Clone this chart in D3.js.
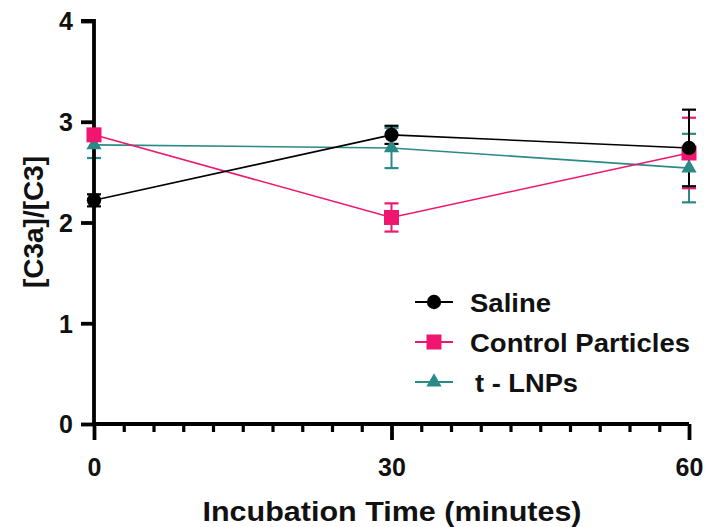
<!DOCTYPE html>
<html>
<head>
<meta charset="utf-8">
<script src="https://cdn.jsdelivr.net/npm/d3@7"></script>
<style>
  html, body { margin: 0; padding: 0; background: #fff; }
  svg { display: block; }
  text { font-family: "Liberation Sans", Arial, sans-serif; font-weight: bold; fill: #111; }
</style>
</head>
<body>
<svg id="chart" width="708" height="527"></svg>
<script>
// ---- data ----
const times = [0, 30, 60];
const seriesNames = ["Saline", "Control Particles", "t - LNPs"];
const salineMean = [2.22, 2.87, 2.74];
const salineErr  = [0.06, 0.09, 0.38];
const controlMean = [2.87, 2.05, 2.69];
const controlErr  = [0.05, 0.14, 0.35];
const lnpMean = [2.77, 2.74, 2.54];
const lnpErr  = [0.13, 0.20, 0.34];
const yTicks = [0, 1, 2, 3, 4];
const xMajorTicks = [0, 30, 60];
const xMinorTicks = d3.range(0, 61, 3);
const xLabel = "Incubation Time (minutes)";
const yLabel = "[C3a]/[C3]";

const colors = ["#000000", "#F0156E", "#2A8A86"];
const symbols = [d3.symbolCircle, d3.symbolSquare, d3.symbolTriangle];
const symbolSizes = [160, 225, 100];

const series = [
  { name: seriesNames[0], mean: salineMean, err: salineErr },
  { name: seriesNames[1], mean: controlMean, err: controlErr },
  { name: seriesNames[2], mean: lnpMean, err: lnpErr }
];

const svg = d3.select("#chart");
const x = d3.scaleLinear().domain([0, 60]).range([94, 689]);
const y = d3.scaleLinear().domain([0, 4]).range([424, 21]);

const drawOrder = [2, 1, 0];
const g = svg.append("g");
drawOrder.forEach(i => {
  const s = series[i];
  const pts = times.map((t, j) => ({ t, m: s.mean[j], e: s.err[j] }));
  g.append("path")
    .datum(pts)
    .attr("fill", "none")
    .attr("stroke", colors[i])
    .attr("stroke-width", 1.6)
    .attr("d", d3.line().x(d => x(d.t)).y(d => y(d.m)));
  pts.forEach(d => {
    const cx = x(d.t);
    g.append("line").attr("x1", cx).attr("x2", cx)
      .attr("y1", y(d.m - d.e)).attr("y2", y(d.m + d.e))
      .attr("stroke", colors[i]).attr("stroke-width", 2);
    [d.m - d.e, d.m + d.e].forEach(v => {
      g.append("line").attr("x1", cx - 7).attr("x2", cx + 7)
        .attr("y1", y(v)).attr("y2", y(v))
        .attr("stroke", colors[i]).attr("stroke-width", 2.2);
    });
  });
});

// axes
const yAxis = d3.axisLeft(y).tickValues(yTicks).tickSize(13).tickPadding(8).tickFormat(d3.format("d"));
const ya = svg.append("g").attr("transform", `translate(${x(0)},0)`).call(yAxis);
ya.select(".domain").attr("stroke", "#000").attr("stroke-width", 3.8).attr("d", `M-13,${y(4)}H0V${y(0)}`);
ya.selectAll(".tick line").attr("stroke", "#000").attr("stroke-width", 3.8);
ya.selectAll(".tick text").style("font-size", "25px").style("font-family", "Liberation Sans, Arial, sans-serif").style("font-weight", "bold").attr("fill", "#111").attr("dy", "0.35em");

const xAxisMinor = d3.axisBottom(x).tickValues(xMinorTicks.filter(v => !xMajorTicks.includes(v))).tickSize(8).tickFormat("");
const xm = svg.append("g").attr("transform", `translate(0,${y(0)})`).call(xAxisMinor);
xm.select(".domain").remove();
xm.selectAll(".tick line").attr("stroke", "#000").attr("stroke-width", 3.2);

const xAxis = d3.axisBottom(x).tickValues(xMajorTicks).tickSize(16).tickPadding(18).tickFormat(d3.format("d"));
const xa = svg.append("g").attr("transform", `translate(0,${y(0)})`).call(xAxis);
xa.select(".domain").attr("stroke", "#000").attr("stroke-width", 3.8).attr("d", `M${x(0)},0H${x(60)}`);
xa.selectAll(".tick line").attr("stroke", "#000").attr("stroke-width", 3.8);
xa.selectAll(".tick text").style("font-size", "25px").style("font-family", "Liberation Sans, Arial, sans-serif").style("font-weight", "bold").attr("fill", "#111");

// markers on top
drawOrder.forEach(i => {
  const s = series[i];
  times.forEach((t, j) => {
    svg.append("path")
      .attr("d", d3.symbol().type(symbols[i]).size(symbolSizes[i])())
      .attr("transform", `translate(${x(t)},${y(s.mean[j])})`)
      .attr("fill", colors[i]);
  });
});

// axis titles
svg.append("text")
  .attr("x", 392).attr("y", 521)
  .attr("text-anchor", "middle")
  .attr("textLength", 379).attr("lengthAdjust", "spacingAndGlyphs")
  .style("font-size", "28px")
  .text(xLabel);
svg.append("text")
  .attr("transform", `translate(43,222) rotate(-90)`)
  .attr("text-anchor", "middle")
  .style("font-size", "28px")
  .text(yLabel);

// legend
const legendY = [302, 342, 382];
const legendTextX = [470, 470, 475];
const legendTextLen = [81, 220, 103];
series.forEach((s, i) => {
  const lg = svg.append("g").attr("transform", `translate(415,${legendY[i]})`);
  lg.append("line").attr("x1", 0).attr("x2", 38).attr("y1", 0).attr("y2", 0)
    .attr("stroke", colors[i]).attr("stroke-width", 2.2);
  lg.append("path").attr("d", d3.symbol().type(symbols[i]).size(symbolSizes[i])())
    .attr("transform", `translate(19,0)`).attr("fill", colors[i]);
  svg.append("text").attr("x", legendTextX[i]).attr("y", legendY[i] + 9.5)
    .attr("textLength", legendTextLen[i]).attr("lengthAdjust", "spacingAndGlyphs")
    .style("font-size", "25px").text(s.name);
});
</script>
</body>
</html>
